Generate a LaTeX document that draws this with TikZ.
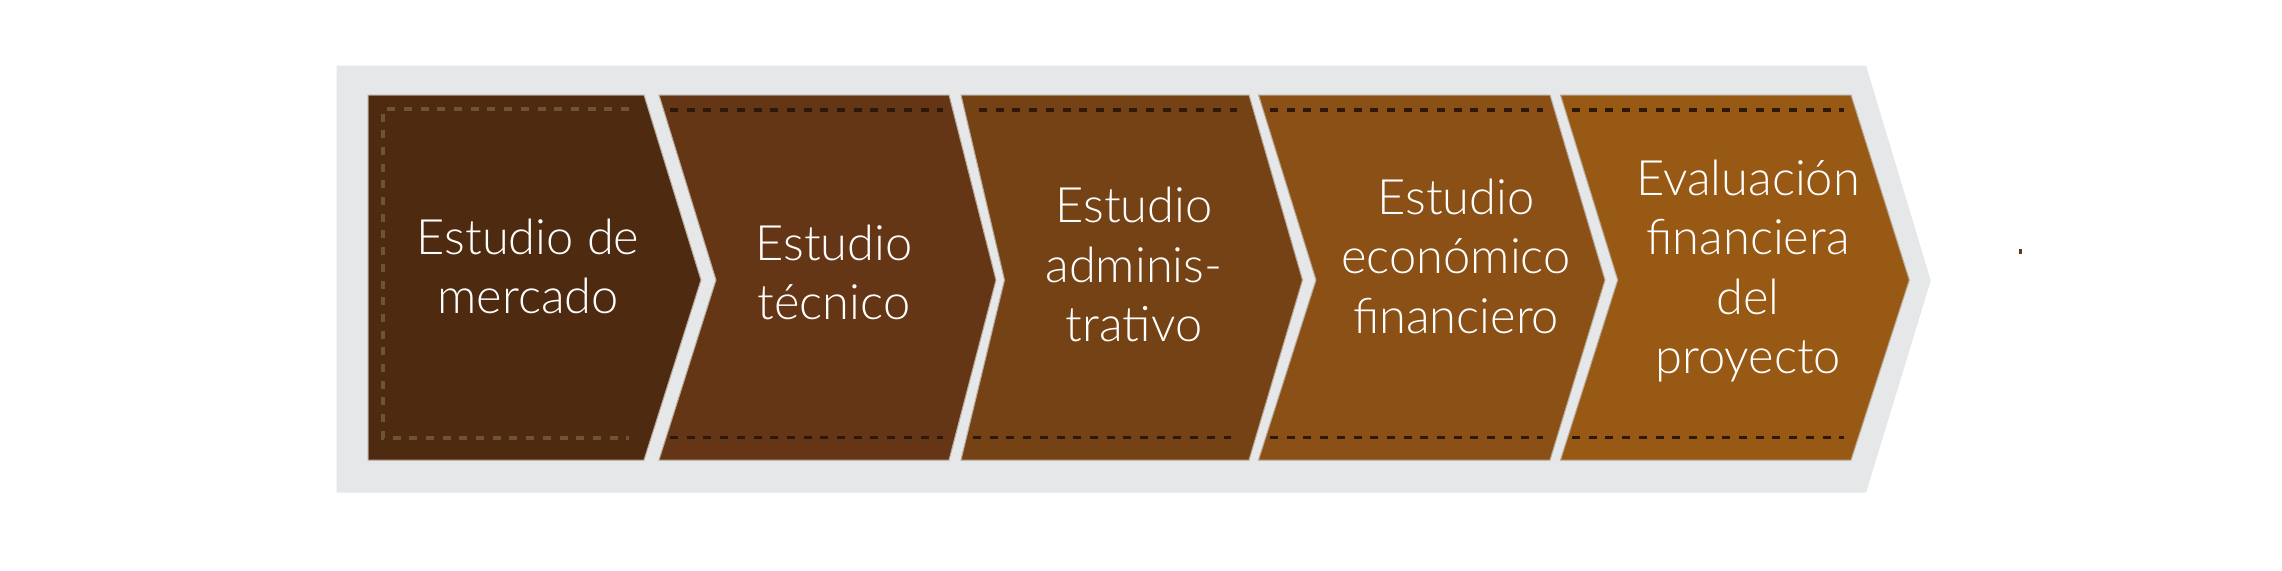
\documentclass[tikz,border=0pt]{standalone}
\usepackage{fontspec}
\setmainfont{Lato Light}
\definecolor{bggray}{HTML}{E6E7E8}
\definecolor{cA}{HTML}{4E2A11}
\definecolor{cB}{HTML}{643615}
\definecolor{cC}{HTML}{754216}
\definecolor{cD}{HTML}{8A5016}
\definecolor{cE}{HTML}{985915}
\definecolor{dashdark}{HTML}{2E180A}
\definecolor{dashlight}{HTML}{6E5532}
\definecolor{edgeline}{HTML}{B8A896}
\begin{document}
\begin{tikzpicture}[x=1pt,y=-1pt,
  chev/.style={draw=edgeline,line width=1pt,line join=miter},
  seam/.style={draw=dashdark,line width=3.2pt,dash pattern=on 8pt off 8.7pt},
  seamlight/.style={draw=dashlight,line width=3.2pt,dash pattern=on 8pt off 8.7pt},
  lbl/.style={text=white,inner sep=0pt,anchor=base,font=\fontsize{48.8}{59.5}\selectfont}]
\useasboundingbox (0,0) rectangle (2282,570);
\fill[white] (0,0) rectangle (2282,570);
% background band
\fill[bggray] (336.7,65.7) -- (1866,65.7) -- (1930.7,280.5) -- (1866,492.7) -- (336.7,492.7) -- cycle;
% chevrons
\filldraw[chev,fill=cA] (368,95) -- (644,95) -- (701,280) -- (644,460) -- (368,460) -- cycle;
\filldraw[chev,fill=cB] (659,95) -- (949,95) -- (996,280) -- (949,460) -- (659,460) -- (716,280) -- cycle;
\filldraw[chev,fill=cC] (961,95) -- (1249,95) -- (1302.5,280) -- (1249,460) -- (961,460) -- (1004.5,280) -- cycle;
\filldraw[chev,fill=cD] (1258.5,95) -- (1550,95) -- (1605,280) -- (1550,460) -- (1258.5,460) -- (1316,280) -- cycle;
\filldraw[chev,fill=cE] (1560.5,95) -- (1851,95) -- (1909.3,280) -- (1851,460) -- (1560.5,460) -- (1617.7,280) -- cycle;
% dashed seams
\draw[seamlight] (629,109) -- (383,109) -- (383,438) -- (629,438);
\draw[seam] (670,110) -- (943,110);
\draw[seam] (670,437.7) -- (943,437.7);
\draw[seam] (979,110) -- (1237,110);
\draw[seam] (973,437.7) -- (1231,437.7);
\draw[seam] (1270,110) -- (1543,110);
\draw[seam] (1270,437.7) -- (1543,437.7);
\draw[seam] (1572,110) -- (1844,110);
\draw[seam] (1572,437.7) -- (1844,437.7);
% labels
\node[lbl] (t1) at (528,254) {\begin{tabular}[t]{@{}c@{}}Estudio de\\mercado\end{tabular}};
\node[lbl] (t2) at (834,260) {\begin{tabular}[t]{@{}c@{}}Estudio\\técnico\end{tabular}};
\node[lbl] (t3) at (1134,222.7) {\begin{tabular}[t]{@{}c@{}}Estudio\\adminis-\\trativo\end{tabular}};
\node[lbl] (t4) at (1456,214.3) {\begin{tabular}[t]{@{}c@{}}Estudio\\económico\\financiero\end{tabular}};
\node[lbl] (t5) at (1748,195) {\begin{tabular}[t]{@{}c@{}}Evaluación\\financiera\\del\\proyecto\end{tabular}};
% stray mark
\fill[cB] (2019,248.5) rectangle (2021.5,254);
\end{tikzpicture}
\end{document}
